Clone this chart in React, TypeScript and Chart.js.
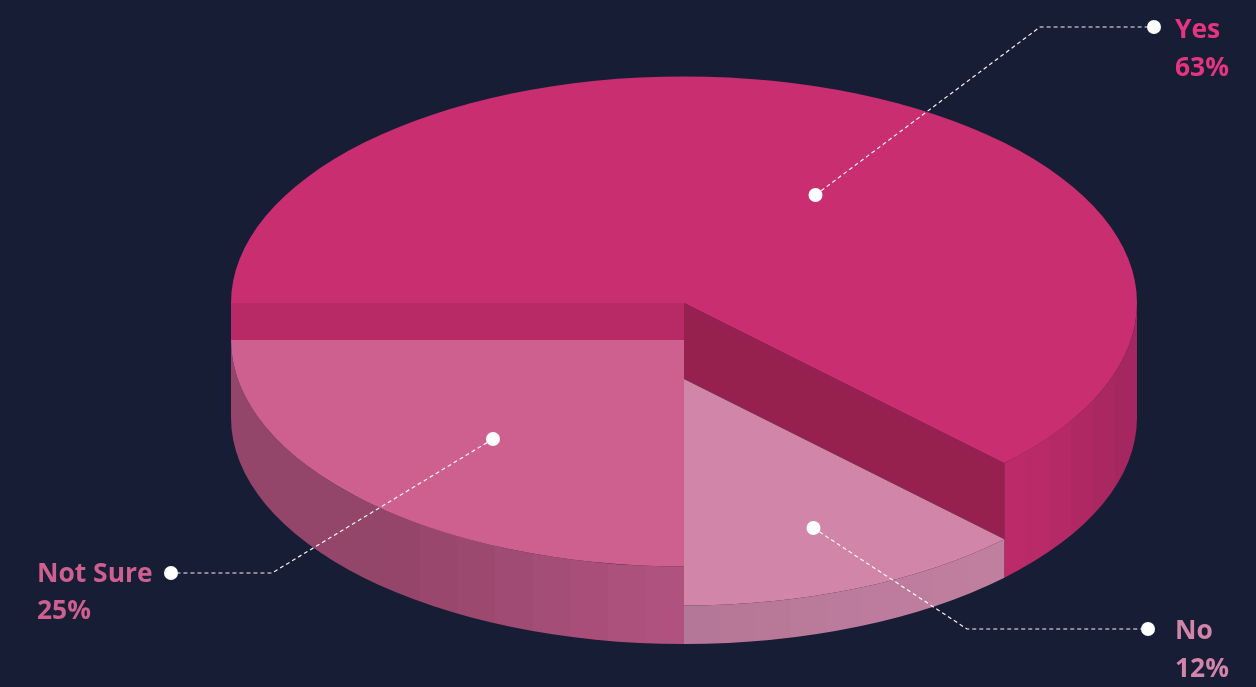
import React, { useEffect, useRef } from "react";
import { Chart, registerables } from "chart.js";

Chart.register(...registerables);

const categories = ["Yes", "No", "Not Sure"];
const shares = [62.5, 12.5, 25];
const percentLabels = ["63%", "12%", "25%"];

const BG = "#181d36";
const topColors = ["#c92e70", "#d085a9", "#ce6090"];
const textColors = ["#e63580", "#d085a9", "#ce6090"];
// start colour, end colour, band count, share of the width that stays flat at the start
const wallBands: [string, string, number, number][] = [
  ["#bc2a69", "#a42760", 6, 0.1],
  ["#b57797", "#c17fa0", 9, 0],
  ["#94456a", "#b0527f", 12, 0.35],
];
const radialFaceColors = ["#b72a65", "#96214f"];

const BASE_Y = 417.5;
const SQUASH = 0.5;
const lifts = [114.5, 38.5, 77.5];

const callouts = [
  { dot: [815.5, 195], elbow: [1040, 27], end: [1154, 27], textX: 1175, base: [38, 76] },
  { dot: [813.5, 528], elbow: [967, 629], end: [1148, 629], textX: 1175, base: [639, 677] },
  { dot: [493, 439], elbow: [272, 573], end: [171, 573], textX: 37, base: [582, 619] },
];

function hex(c: string) {
  return [1, 3, 5].map((i) => parseInt(c.slice(i, i + 2), 16));
}

function bandFill(ctx: CanvasRenderingContext2D, x0: number, x1: number, band: [string, string, number, number]) {
  const [c0, c1, n, flat] = band;
  const a = hex(c0);
  const b = hex(c1);
  const g = ctx.createLinearGradient(x0, 0, x1, 0);
  for (let i = 0; i < n; i++) {
    const t = Math.max(0, (i / (n - 1) - flat) / (1 - flat));
    const col = `rgb(${a.map((v, k) => Math.round(v + (b[k] - v) * t)).join(",")})`;
    g.addColorStop(i / n, col);
    g.addColorStop((i + 1) / n, col);
  }
  return g;
}

const pie3d = {
  id: "pie3d",
  beforeDatasetDraw: () => false,
  afterDatasetsDraw(chart: any) {
    const ctx: CanvasRenderingContext2D = chart.ctx;
    const arcs = chart.getDatasetMeta(0).data as any[];
    const cx = arcs[0].x;
    const r = arcs[0].outerRadius;
    const ry = r * SQUASH;
    const topY = (i: number) => BASE_Y - lifts[i];

    const wall = (i: number, a0: number, a1: number) => {
      const from = Math.cos(a0) * r + cx;
      const to = Math.cos(a1) * r + cx;
      ctx.beginPath();
      ctx.ellipse(cx, topY(i), r, ry, 0, a0, a1, false);
      ctx.ellipse(cx, BASE_Y, r, ry, 0, a1, a0, true);
      ctx.closePath();
      ctx.fillStyle = bandFill(ctx, Math.min(from, to), Math.max(from, to), wallBands[i]);
      ctx.fill();
    };
    const top = (i: number) => {
      ctx.save();
      ctx.translate(0, topY(i));
      ctx.scale(1, SQUASH);
      ctx.translate(0, -arcs[i].y);
      arcs[i].draw(ctx);
      ctx.restore();
    };

    const [yes, no, notSure] = arcs;

    // radial faces of the tallest slice, exposed by the lower neighbours
    ctx.fillStyle = radialFaceColors[0];
    ctx.fillRect(cx - r, topY(0), r, lifts[0] - lifts[2]);
    const ex = cx + Math.cos(yes.endAngle) * r;
    const ey = Math.sin(yes.endAngle) * ry;
    ctx.fillStyle = radialFaceColors[1];
    ctx.beginPath();
    ctx.moveTo(cx, topY(0));
    ctx.lineTo(ex, topY(0) + ey);
    ctx.lineTo(ex, topY(1) + ey);
    ctx.lineTo(cx, topY(1));
    ctx.closePath();
    ctx.fill();

    // outer walls, front half only
    wall(0, 0, yes.endAngle);
    wall(2, notSure.startAngle, Math.PI);
    wall(1, no.startAngle, no.endAngle);

    top(2);
    top(1);
    top(0);

    // callouts
    callouts.forEach((c, i) => {
      ctx.save();
      ctx.strokeStyle = "rgba(255,255,255,0.95)";
      ctx.lineWidth = 1.2;
      ctx.setLineDash([4, 3]);
      ctx.beginPath();
      ctx.moveTo(c.dot[0], c.dot[1]);
      ctx.lineTo(c.elbow[0], c.elbow[1]);
      ctx.lineTo(c.end[0], c.end[1]);
      ctx.stroke();
      ctx.restore();
      ctx.fillStyle = "#ffffff";
      [c.dot, c.end].forEach((p) => {
        ctx.beginPath();
        ctx.arc(p[0], p[1], 7, 0, Math.PI * 2);
        ctx.fill();
      });
      ctx.fillStyle = textColors[i];
      ctx.font = "700 26.4px 'Open Sans'";
      ctx.textAlign = "left";
      ctx.textBaseline = "alphabetic";
      ctx.fillText(categories[i], c.textX, c.base[0]);
      ctx.fillText(percentLabels[i], c.textX, c.base[1]);
    });
  },
};

export default function App() {
  const ref = useRef<HTMLCanvasElement>(null);
  useEffect(() => {
    document.body.style.margin = "0";
    document.body.style.background = BG;
    const chart = new Chart(ref.current!, {
      type: "pie",
      data: {
        labels: categories,
        datasets: [
          {
            data: shares,
            backgroundColor: topColors,
            borderWidth: 0,
            radius: 453,
          } as any,
        ],
      },
      options: {
        animation: false,
        responsive: false,
        devicePixelRatio: 1,
        rotation: -90,
        layout: { padding: { left: 112 } },
        events: [],
        plugins: { legend: { display: false }, tooltip: { enabled: false } },
      },
      plugins: [pie3d as any],
    });
    return () => chart.destroy();
  }, []);
  return (
    <div style={{ width: 1256, height: 687, background: BG, overflow: "hidden" }}>
      <canvas ref={ref} width={1256} height={687} style={{ display: "block" }} />
    </div>
  );
}
